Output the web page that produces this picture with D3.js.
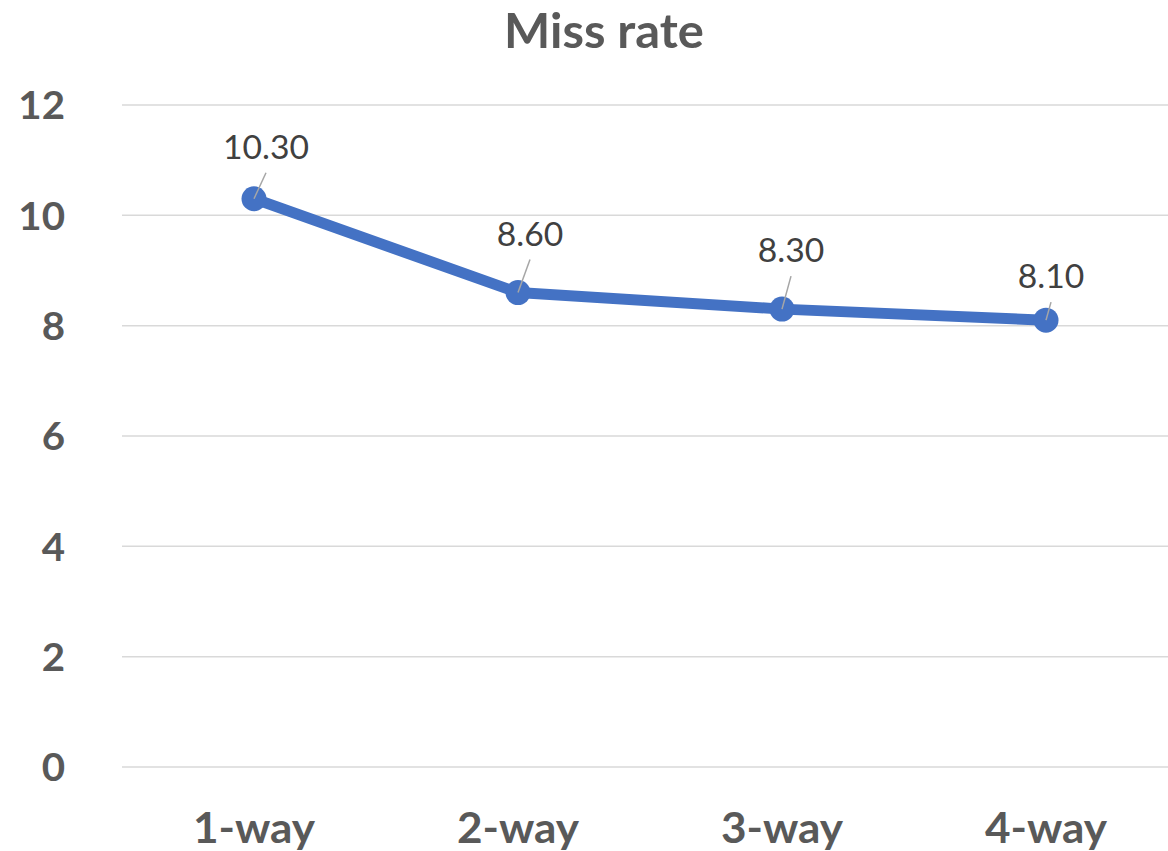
<!DOCTYPE html>
<html>
<head>
<meta charset="utf-8">
<script src="https://cdn.jsdelivr.net/npm/d3@7"></script>
<style>
  html, body { margin: 0; padding: 0; background: #fff; }
  svg { display: block; }
</style>
</head>
<body>
<svg id="chart" width="1168" height="851"></svg>
<script>
// Miss rate by cache associativity
const categories = ["1-way", "2-way", "3-way", "4-way"];
const missRate = [10.3, 8.6, 8.3, 8.1];
const yTicks = [0, 2, 4, 6, 8, 10, 12];
const chartTitle = "Miss rate";

const W = 1168, H = 851;
const FONT = "Lato, 'Open Sans', sans-serif";
const svg = d3.select("#chart");

const x = d3.scaleBand().domain(categories).range([122, 1178]);
const y = d3.scaleLinear().domain([0, 12]).range([767, 105]);

// title
svg.append("text")
  .attr("transform", "translate(604,48) scale(1.02,1)")
  .attr("text-anchor", "middle")
  .attr("font-family", FONT).attr("font-weight", 700)
  .attr("font-size", 48).attr("fill", "#595959")
  .text(chartTitle);

// gridlines
svg.append("g").selectAll("line").data(yTicks).join("line")
  .attr("x1", 122).attr("x2", W)
  .attr("y1", d => y(d)).attr("y2", d => y(d))
  .attr("stroke", "#d9d9d9").attr("stroke-width", 1.5);

// y axis labels
const yAxis = d3.axisLeft(y).tickValues(yTicks).tickSize(0).tickPadding(0).tickFormat(d3.format("d"));
svg.append("g").attr("transform", "translate(65,0)").call(yAxis)
  .call(g => g.select(".domain").remove())
  .selectAll("text")
  .attr("dy", "0.36em")
  .attr("transform", "scale(1.06,1)")
  .attr("font-family", FONT).attr("font-weight", 700)
  .attr("font-size", 38).attr("fill", "#595959");

// x axis labels
const xAxis = d3.axisBottom(x).tickSize(0).tickPadding(0);
svg.append("g").attr("transform", "translate(0,843)").call(xAxis)
  .call(g => g.select(".domain").remove())
  .selectAll("text")
  .attr("y", 0).attr("dy", 0)
  .attr("transform", "scale(1.05,1)")
  .attr("font-family", FONT).attr("font-weight", 700)
  .attr("font-size", 42).attr("fill", "#595959");

const cx = d => x(d) + x.bandwidth() / 2;
const pts = categories.map((c, i) => ({ c, v: missRate[i] }));

// series line
svg.append("path")
  .datum(pts)
  .attr("fill", "none")
  .attr("stroke", "#4472C4")
  .attr("stroke-width", 11)
  .attr("stroke-linejoin", "round")
  .attr("d", d3.line().x(d => cx(d.c)).y(d => y(d.v)));

// markers
svg.append("g").selectAll("circle").data(pts).join("circle")
  .attr("cx", d => cx(d.c)).attr("cy", d => y(d.v))
  .attr("r", 12.5).attr("fill", "#4472C4");

// data labels with leader lines
const labelShift = [[12, -40], [12, -47], [9, -47], [5, -32]];
const lbl = svg.append("g");
pts.forEach((d, i) => {
  const px = cx(d.c), py = y(d.v);
  const lx = px + labelShift[i][0], ly = py + labelShift[i][1];
  lbl.append("line")
    .attr("x1", px).attr("y1", py)
    .attr("x2", lx).attr("y2", ly + 14)
    .attr("stroke", "#a6a6a6").attr("stroke-width", 1.5);
  lbl.append("text")
    .attr("transform", `translate(${lx},${ly}) scale(1.02,1)`)
    .attr("text-anchor", "middle")
    .attr("font-family", FONT).attr("font-size", 33)
    .attr("fill", "#404040")
    .text(d3.format(".2f")(d.v));
});
</script>
</body>
</html>
